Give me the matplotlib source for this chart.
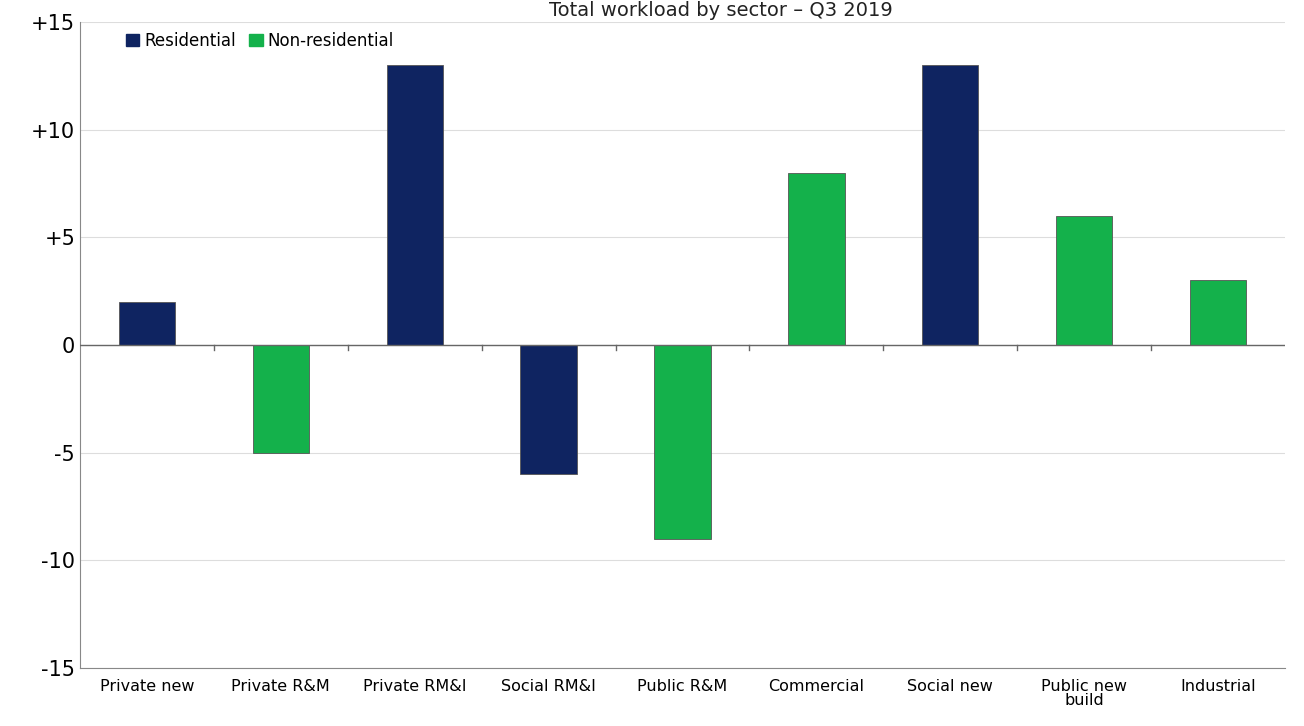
import matplotlib.pyplot as plt
from matplotlib.patches import Patch

categories = ["Private new", "Private R&M", "Private RM&I", "Social RM&I", "Public R&M",
              "Commercial", "Social new", "Public new\nbuild", "Industrial"]
values = [2, -5, 13, -6, -9, 8, 13, 6, 3]
sectors = ["Residential", "Non-residential", "Residential", "Residential", "Non-residential",
           "Non-residential", "Residential", "Non-residential", "Non-residential"]
colors = {"Residential": "#0f2461", "Non-residential": "#14b14b"}

fig = plt.figure(figsize=(13.04, 7.26), dpi=100)
ax = fig.add_axes([80/1304, 1-668/726, 1205/1304, (668-22)/726])
x = list(range(len(categories)))
ax.bar(x, values, width=0.42, color=[colors[s] for s in sectors], edgecolor="#555555", linewidth=0.6, zorder=3)
ax.set_ylim(-15, 15)
ax.set_xlim(-0.5, len(categories)-0.5)
ax.set_yticks([-15, -10, -5, 0, 5, 10, 15])
ax.set_yticklabels(["-15", "-10", "-5", "0", "+5", "+10", "+15"], fontsize=15)
ax.yaxis.grid(True, color="#dddddd", zorder=0)
ax.axhline(0, color="#666666", linewidth=1, zorder=4)
for b in range(1, len(categories)):
    ax.plot([b - 0.5, b - 0.5], [0, -0.25], color="#666666", linewidth=1, zorder=4)
ax.set_xticks(x)
ax.set_xticklabels(categories, fontsize=11.5, linespacing=0.9)
ax.tick_params(axis="x", length=0, pad=8)
ax.tick_params(axis="y", length=0)
for s in ["top", "right"]:
    ax.spines[s].set_visible(False)
ax.spines["left"].set_color("#888888")
ax.spines["bottom"].set_color("#888888")
ax.legend(handles=[Patch(color=colors["Residential"], label="Residential"),
                   Patch(color=colors["Non-residential"], label="Non-residential")],
          loc="upper left", ncol=2, frameon=False, fontsize=12, handlelength=0.8,
          handletextpad=0.3, columnspacing=0.8, borderaxespad=0.2, bbox_to_anchor=(0.03, 1.0))
fig.text(0.553, 0.999, "Total workload by sector – Q3 2019", ha="center", va="top", fontsize=14, color="#222222")
fig.savefig("out.png")
